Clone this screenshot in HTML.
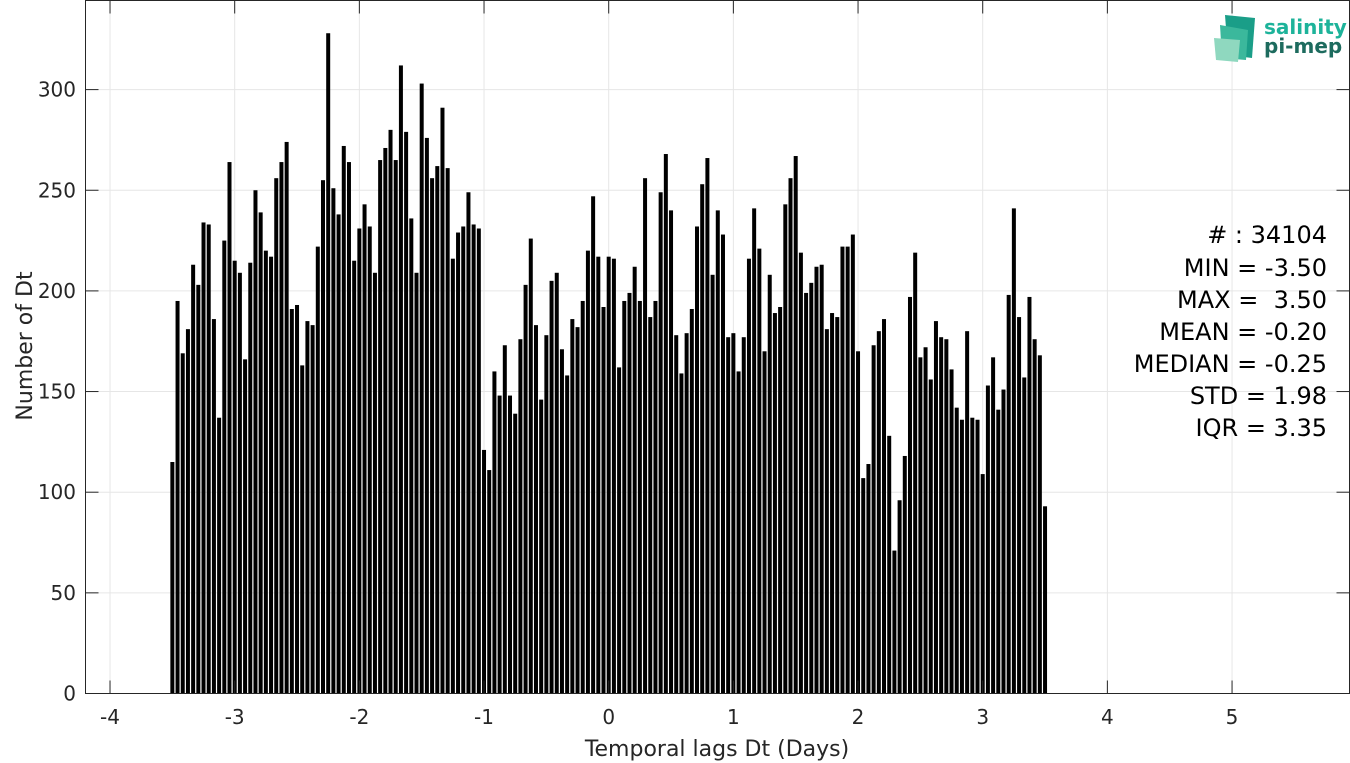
<!DOCTYPE html>
<html><head><meta charset="utf-8"><style>
html,body{margin:0;padding:0;background:#fff;}
svg{display:block;font-family:"DejaVu Sans","Liberation Sans",sans-serif;}
</style></head><body>
<svg id="chart" width="1350" height="763" viewBox="0 0 1350 763" xmlns="http://www.w3.org/2000/svg">
<rect x="0" y="0" width="1350" height="763" fill="#fff"/>
<g id="grid"></g>
<g id="bars"></g>
<g id="axes"></g>
<text x="717" y="756" font-size="22" fill="#262626" text-anchor="middle">Temporal lags Dt (Days)</text>
<text transform="translate(32,346) rotate(-90)" font-size="22" fill="#262626" text-anchor="middle">Number of Dt</text>
<g font-size="24" fill="#000" text-anchor="end">
<text x="1327" y="243"># : 34104</text>
<text x="1327" y="276">MIN = -3.50</text>
<text x="1327" y="308" xml:space="preserve">MAX =  3.50</text>
<text x="1327" y="340">MEAN = -0.20</text>
<text x="1327" y="372">MEDIAN = -0.25</text>
<text x="1327" y="404">STD = 1.98</text>
<text x="1327" y="436">IQR = 3.35</text>
</g>
<g>
<polygon points="1225,15 1255,18 1252,58 1228,55" fill="#1a9e88"/>
<polygon points="1220,25 1248,30 1246,60 1222,58" fill="#3bb89c"/>
<polygon points="1214,38 1240,40 1238,62 1216,60" fill="#8fd8bf"/>
<text x="1264" y="34" font-size="20" font-weight="bold" fill="#1db39a">salinity</text>
<text x="1264" y="53" font-size="20" font-weight="bold" fill="#1d6b5e">pi-mep</text>
</g>
</svg>
<script>
const binCenters0 = -3.5;
const binWidth = 1/24;
const counts = [115,195,169,181,213,203,234,233,186,137,225,264,215,209,166,214,250,239,220,217,256,264,274,191,193,163,185,183,
222,255,328,251,238,272,264,215,231,243,232,209,265,271,280,265,312,279,236,209,303,276,256,262,291,261,216,229,
232,249,233,231,121,111,160,148,173,148,139,176,203,226,183,146,178,205,209,171,158,186,182,195,220,247,217,192,
217,216,162,195,199,212,195,256,187,195,249,268,240,178,159,179,191,232,253,266,208,240,228,177,179,160,177,216,
241,221,170,208,189,192,243,256,267,219,199,204,212,213,181,189,187,222,222,228,170,107,114,173,180,186,128,
71,96,118,197,219,167,172,156,185,177,176,161,142,136,180,137,136,109,153,167,141,151,198,241,187,157,197,176,168,93];
const xTicks = [-4,-3,-2,-1,0,1,2,3,4,5];
const yTicks = [0,50,100,150,200,250,300];

const L=85.5,R=1349.5,T=0.5,B=693.5;
const xs = v => 608.7 + 124.67*v;
const ys = v => 693.5 - 2.013*v;
const NS='http://www.w3.org/2000/svg';
function mk(tag, parent, attrs){const e=document.createElementNS(NS,tag);for(const k in attrs)e.setAttribute(k,attrs[k]);parent.appendChild(e);return e;}
const grid=document.getElementById('grid'), bars=document.getElementById('bars'), axes=document.getElementById('axes');
xTicks.forEach(t=>{
  const l=mk('line',grid,{x1:xs(t),x2:xs(t),y1:T,y2:B,stroke:'#e6e6e6','stroke-width':1});
  
  
});
yTicks.forEach(t=>{
  const l=mk('line',grid,{x1:L,x2:R,y1:ys(t),y2:ys(t),stroke:'#e6e6e6','stroke-width':1});
  
  
});
counts.forEach((c,i)=>{
  const cx=xs(binCenters0+i*binWidth);
  const r=mk('rect',bars,{x:cx-2,y:ys(c),width:4,height:ys(0)-ys(c),fill:'#000'});
  
  
});
const frame=mk('rect',axes,{x:L,y:T,width:R-L,height:B-T,fill:'none',stroke:'#262626','stroke-width':1});


xTicks.forEach(t=>{
  const x=xs(t);
  mk('line',axes,{x1:x,x2:x,y1:B,y2:B-13,stroke:'#262626'});
  mk('line',axes,{x1:x,x2:x,y1:T,y2:T+13,stroke:'#262626'});
  const tx=mk('text',axes,{x:x,y:724,'font-size':20,fill:'#262626','text-anchor':'middle'});
  tx.textContent=String(t);
  
  
});
yTicks.forEach(t=>{
  const y=ys(t);
  mk('line',axes,{x1:L,x2:L+13,y1:y,y2:y,stroke:'#262626'});
  mk('line',axes,{x1:R,x2:R-13,y1:y,y2:y,stroke:'#262626'});
  const tx=mk('text',axes,{x:76,y:y+7,'font-size':20,fill:'#262626','text-anchor':'end'});
  tx.textContent=String(t);
  
  
});
</script>
</body></html>
